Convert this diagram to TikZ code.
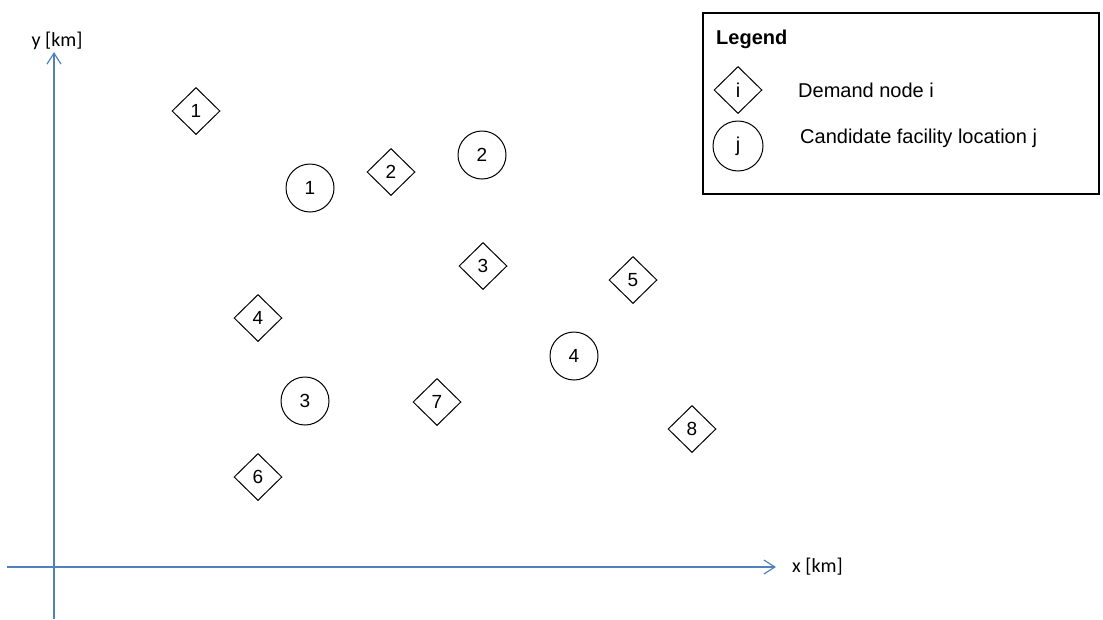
\documentclass[tikz,border=0pt]{standalone}
\usepackage{fontspec}
\setmainfont{Liberation Sans}
\newfontfamily\axisfont{Carlito}
\usetikzlibrary{shapes.geometric,arrows.meta}
\definecolor{axisblue}{HTML}{4F81BD}
\tikzset{
  demand/.style={draw, line width=1pt, shape=diamond, aspect=1, inner sep=0pt,
    minimum width=48pt, minimum height=47pt, font=\fontsize{19}{22}\selectfont},
  facility/.style={draw, line width=1pt, circle, inner sep=0pt,
    minimum size=48pt, font=\fontsize{19}{22}\selectfont},
  axis/.style={draw=axisblue, line width=1.4pt,
    -{Straight Barb[length=11pt,width=14pt,line width=1.2pt]}},
  axislabel/.style={font=\axisfont\fontsize{20}{24}\selectfont, inner sep=0pt},
  legendtext/.style={font=\fontsize{20}{24}\selectfont, inner sep=0pt, anchor=west}
}
\begin{document}
\begin{tikzpicture}[x=1pt,y=-1pt]
\useasboundingbox (0,0) rectangle (1103,619);

% axes
\coordinate (xs) at (7,567);
\coordinate (xe) at (776,567);
\coordinate (ys) at (54,619);
\coordinate (ye) at (54,52);
\draw[axis] (xs) -- (xe);
\draw[axis] (ys) -- (ye);
\node[axislabel, anchor=west] (xl) at (792,567) {x [km]};
\node[axislabel] (yl) at (57,41) {y [km]};

% demand nodes
\node[demand] (d1) at (196,111) {1};
\node[demand] (d2) at (391,172) {2};
\node[demand] (d3) at (483,266) {3};
\node[demand] (d4) at (258,318) {4};
\node[demand] (d5) at (633,280) {5};
\node[demand] (d6) at (258,477) {6};
\node[demand] (d7) at (437,402) {7};
\node[demand] (d8) at (692,429) {8};

% candidate facility locations
\node[facility] (f1) at (310,188) {1};
\node[facility] (f2) at (482,155) {2};
\node[facility] (f3) at (305,401) {3};
\node[facility] (f4) at (574,356) {4};

% legend
\node[draw, line width=1.5pt, minimum width=396pt, minimum height=181pt,
  anchor=north west, inner sep=0pt] (leg) at (702,12) {};
\node[legendtext, font=\bfseries\fontsize{20}{24}\selectfont] (legt) at (716,39) {Legend};
\node[demand, font=\fontsize{20}{24}\selectfont] (ld) at (738,90) {i};
\node[legendtext] (ldt) at (798,90) {Demand node i};
\node[facility, minimum size=50pt, font=\fontsize{20}{24}\selectfont] (lf) at (738,146) {j};
\node[legendtext] (lft) at (800,138) {Candidate facility location j};
\end{tikzpicture}
\end{document}
